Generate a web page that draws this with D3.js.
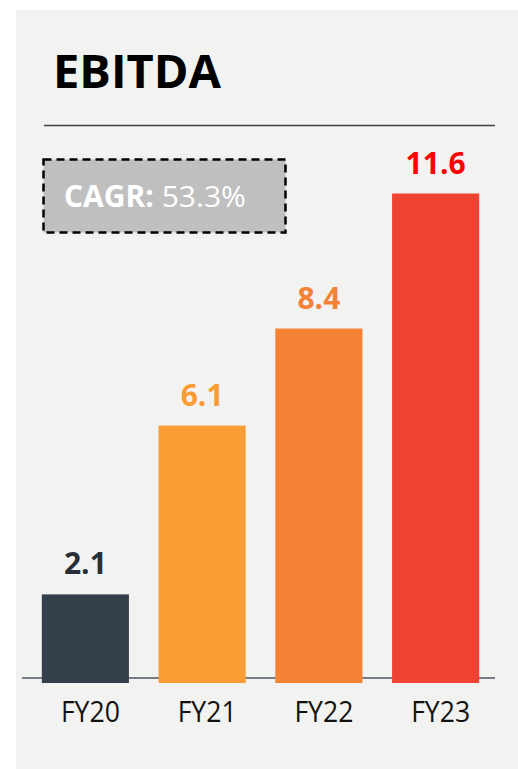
<!DOCTYPE html>
<html>
<head>
<meta charset="utf-8">
<script src="https://cdn.jsdelivr.net/npm/d3@7"></script>
<style>
  body { margin: 0; background: #fff; }
  svg { display: block; font-family: "Open Sans", sans-serif; }
</style>
</head>
<body>
<svg id="chart" width="518" height="769"></svg>
<script>
// data
const categories = ["FY20", "FY21", "FY22", "FY23"];
const values = [2.1, 6.1, 8.4, 11.6];
const barColors = ["#333f4a", "#f89c33", "#f38235", "#ee4232"];
const labelColors = ["#262f36", "#f89c33", "#f38235", "#ff0000"];
const title = "EBITDA";
const cagrLabel = "CAGR:";
const cagrValue = "53.3%";

const svg = d3.select("#chart");
const width = 518;
const height = 769;

// background panel
svg.append("rect")
    .attr("x", 16).attr("y", 10)
    .attr("width", width - 16).attr("height", height - 10)
    .attr("fill", "#f2f2f0");

// title + rule
svg.append("text")
    .attr("x", 53).attr("y", 88)
    .attr("font-size", 47).attr("font-weight", 700)
    .attr("fill", "#000")
    .text(title);

svg.append("line")
    .attr("x1", 44).attr("x2", 495)
    .attr("y1", 125.5).attr("y2", 125.5)
    .attr("stroke", "#3a3f44").attr("stroke-width", 1.3);

// scales
const x = d3.scaleBand()
    .domain(categories)
    .range([27, 494])
    .paddingInner(0.254)
    .paddingOuter(0.127);

const y = d3.scaleLinear()
    .domain([0, 11.6])
    .range([683, 193.5]);

// baseline
svg.append("line")
    .attr("x1", 22).attr("x2", 495)
    .attr("y1", y(0) - 5).attr("y2", y(0) - 5)
    .attr("stroke", "#4b5661").attr("stroke-width", 1.5);

// bars
svg.selectAll("rect.bar")
    .data(values)
    .join("rect")
    .attr("class", "bar")
    .attr("x", (d, i) => x(categories[i]))
    .attr("y", d => y(d))
    .attr("width", x.bandwidth())
    .attr("height", d => y(0) - y(d))
    .attr("fill", (d, i) => barColors[i]);

// value labels
svg.selectAll("text.val")
    .data(values)
    .join("text")
    .attr("class", "val")
    .attr("x", (d, i) => x(categories[i]) + x.bandwidth() / 2)
    .attr("y", d => y(d) - 20)
    .attr("text-anchor", "middle")
    .attr("font-size", 30).attr("font-weight", 700)
    .attr("fill", (d, i) => labelColors[i])
    .text(d => d.toFixed(1));

// category labels (sit a little right of bar centre in the original)
svg.selectAll("text.cat")
    .data(categories)
    .join("text")
    .attr("class", "cat")
    .attr("x", d => x(d) + x.bandwidth() / 2 + 5)
    .attr("y", 722)
    .attr("text-anchor", "middle")
    .attr("font-size", 29)
    .attr("textLength", 59)
    .attr("lengthAdjust", "spacingAndGlyphs")
    .attr("fill", "#111")
    .text(d => d);

// CAGR box
const box = svg.append("g");
box.append("rect")
    .attr("x", 43.5).attr("y", 159.5)
    .attr("width", 242).attr("height", 73)
    .attr("fill", "#bfbfbf")
    .attr("stroke", "#000").attr("stroke-width", 2.5)
    .attr("stroke-dasharray", "8 5");

const cagr = box.append("text")
    .attr("x", 64).attr("y", 207)
    .attr("font-size", 30)
    .attr("fill", "#fff");
cagr.append("tspan").attr("font-weight", 700).text(cagrLabel);
cagr.append("tspan").text(" " + cagrValue);
</script>
</body>
</html>
